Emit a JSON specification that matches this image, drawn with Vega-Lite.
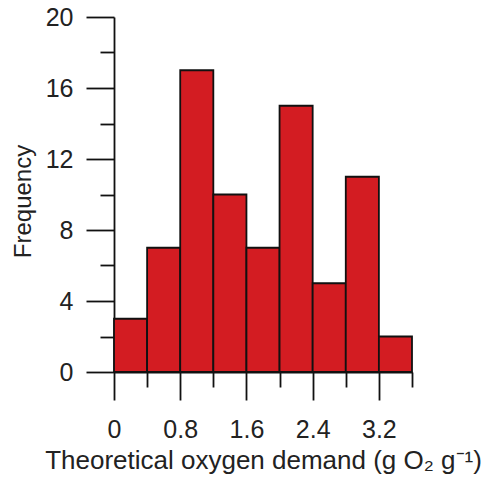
{
  "$schema": "https://vega.github.io/schema/vega-lite/v6.json",
  "width": 298,
  "height": 355,
  "autosize": {"type": "none"},
  "padding": {"left": 114, "top": 17, "right": 81, "bottom": 110},
  "background": "white",
  "data": {
    "values": [
      {"bin_start": 0.0, "bin_end": 0.4, "count": 3},
      {"bin_start": 0.4, "bin_end": 0.8, "count": 7},
      {"bin_start": 0.8, "bin_end": 1.2, "count": 17},
      {"bin_start": 1.2, "bin_end": 1.6, "count": 10},
      {"bin_start": 1.6, "bin_end": 2.0, "count": 7},
      {"bin_start": 2.0, "bin_end": 2.4, "count": 15},
      {"bin_start": 2.4, "bin_end": 2.8, "count": 5},
      {"bin_start": 2.8, "bin_end": 3.2, "count": 11},
      {"bin_start": 3.2, "bin_end": 3.6, "count": 2}
    ]
  },
  "mark": {"type": "rect", "color": "#d31c22", "stroke": "#111111", "strokeWidth": 1.8},
  "encoding": {
    "x": {
      "field": "bin_start",
      "type": "quantitative",
      "scale": {"domain": [0, 3.6], "nice": false, "zero": false},
      "axis": {
        "values": [0, 0.4, 0.8, 1.2, 1.6, 2.0, 2.4, 2.8, 3.2, 3.6],
        "labelExpr": "round(datum.value * 10) % 8 == 0 ? format(datum.value, '~g') : ''",
        "tickSize": {"condition": {"test": "round(datum.value * 10) % 8 == 0", "value": 28}, "value": 15},
        "labelFlush": false,
        "labelPadding": 17,
        "title": "Theoretical oxygen demand (g O₂ g⁻¹)",
        "titleFontSize": 26,
        "titlePadding": 5
      }
    },
    "x2": {"field": "bin_end"},
    "y": {
      "field": "count",
      "type": "quantitative",
      "scale": {"domain": [0, 20], "nice": false},
      "axis": {
        "values": [0, 2, 4, 6, 8, 10, 12, 14, 16, 18, 20],
        "labelExpr": "datum.value % 4 == 0 ? datum.label : ''",
        "tickSize": {"condition": {"test": "datum.value % 4 == 0", "value": 28}, "value": 14},
        "labelFlush": false,
        "labelPadding": 13,
        "title": "Frequency",
        "titlePadding": 10,
        "titleY": 184
      }
    },
    "y2": {"datum": 0}
  },
  "config": {
    "view": {"stroke": null},
    "axis": {
      "grid": false,
      "domainColor": "#111111",
      "domainWidth": 1.8,
      "tickColor": "#111111",
      "tickWidth": 1.8,
      "labelFont": "Liberation Sans",
      "labelFontSize": 25,
      "labelColor": "#222222",
      "titleFont": "Liberation Sans",
      "titleFontSize": 24,
      "titleFontWeight": "normal",
      "titleColor": "#222222"
    }
  }
}
